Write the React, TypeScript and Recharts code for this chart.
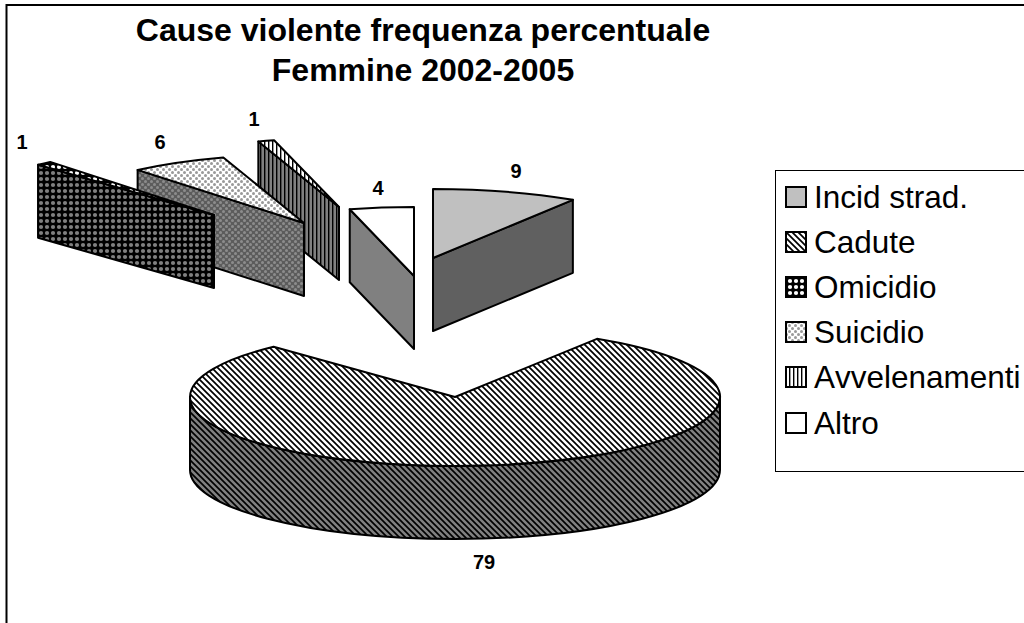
import React from 'react';
import { PieChart, Pie, Legend } from 'recharts';

const categories = ['Incid strad.', 'Cadute', 'Omicidio', 'Suicidio', 'Avvelenamenti', 'Altro'];
const values = [9, 79, 1, 6, 1, 4];
const titleLines = ['Cause violente frequenza percentuale', 'Femmine 2002-2005'];

// Drawn back to front and counter-clockwise from the top, so the front slices overlap the back ones.
const rows = categories.map((name, i) => ({ name, value: values[i] })).reverse();

const CX = 430;
const CY = 300;
const RX = 265;
const SQUASH = 0.26;
const DEPTH = 73;

const explode: Record<string, [number, number]> = {
  'Incid strad.': [3, -42],
  Cadute: [25, 97],
  Omicidio: [-216, -85],
  Suicidio: [-126, -77],
  Avvelenamenti: [-91, -93],
  Altro: [-16, -24],
};
const radiusScale: Record<string, number> = {
  'Incid strad.': 0.985,
  Cadute: 1,
  Omicidio: 0.97,
  Suicidio: 0.985,
  Avvelenamenti: 0.985,
  Altro: 0.975,
};
const labelAt: Record<string, [number, number]> = {
  'Incid strad.': [86, -129],
  Cadute: [54, 262],
  Omicidio: [-408, -158],
  Suicidio: [-270, -158],
  Avvelenamenti: [-176, -181],
  Altro: [-52, -112],
};
const fills: Record<string, [string, string, string]> = {
  'Incid strad.': ['#c0c0c0', '#606060', '#c0c0c0'],
  Cadute: ['url(#caduteTop)', 'url(#caduteSide)', 'url(#caduteTop)'],
  Omicidio: ['url(#omiTop)', 'url(#omiSide)', 'url(#omiTop)'],
  Suicidio: ['url(#suiTop)', 'url(#suiSide)', 'url(#suiTop)'],
  Avvelenamenti: ['url(#avvTop)', 'url(#avvSide)', 'url(#avvTop)'],
  Altro: ['#ffffff', '#808080', '#ffffff'],
};

const rad = (a: number) => (a * Math.PI) / 180;

function Slice3D(props: any) {
  const { cx, cy, outerRadius, startAngle, endAngle } = props;
  const name = props.name ?? props.payload?.name;
  const [dx, dy] = explode[name];
  const ax = cx + dx;
  const ay = cy + dy;
  const rx = outerRadius * radiusScale[name];
  const ry = outerRadius * SQUASH;
  const a0 = Math.min(startAngle, endAngle);
  const a1 = Math.max(startAngle, endAngle);
  const px = (a: number) => ax + rx * Math.cos(rad(a));
  const py = (a: number) => ay - ry * Math.sin(rad(a));
  const [top, side] = fills[name];
  const st = { stroke: '#000', strokeWidth: 2, strokeLinejoin: 'round' as const };

  const cutFace = (a: number) =>
    `M${ax},${ay} L${px(a)},${py(a)} L${px(a)},${py(a) + DEPTH} L${ax},${ay + DEPTH} Z`;
  const showStart = Math.cos(rad(a1)) < -0.001;
  const showEnd = Math.cos(rad(a0)) > 0.001;

  const w0 = Math.max(a0, 180);
  const w1 = Math.min(a1, 360);
  const hasWall = w1 > w0;
  const large = a1 - a0 > 180 ? 1 : 0;
  const wallLarge = w1 - w0 > 180 ? 1 : 0;

  return (
    <g>
      {showStart && <path d={cutFace(a1)} fill={side} {...st} />}
      {showEnd && <path d={cutFace(a0)} fill={side} {...st} />}
      {hasWall && (
        <path
          d={`M${px(w1)},${py(w1)} A${rx},${ry} 0 ${wallLarge} 1 ${px(w0)},${py(w0)} L${px(w0)},${py(w0) + DEPTH} A${rx},${ry} 0 ${wallLarge} 0 ${px(w1)},${py(w1) + DEPTH} Z`}
          fill={side}
          {...st}
        />
      )}
      <path
        d={`M${ax},${ay} L${px(a1)},${py(a1)} A${rx},${ry} 0 ${large} 1 ${px(a0)},${py(a0)} Z`}
        fill={top}
        {...st}
      />
    </g>
  );
}

function sliceLabel(props: any) {
  const name = props.name ?? props.payload?.name;
  const [dx, dy] = labelAt[name];
  return (
    <text
      x={CX + dx}
      y={CY + dy}
      textAnchor="middle"
      dominantBaseline="central"
      fontFamily="'Liberation Sans', Arial, sans-serif"
      fontWeight="bold"
      fontSize={20}
      fill="#000"
    >
      {props.value}
    </text>
  );
}

function stripes(id: string, bg: string) {
  return (
    <pattern id={id} width={6} height={6} patternUnits="userSpaceOnUse">
      <rect width={6} height={6} fill={bg} />
      <path d="M-3,3 L3,9 M0,0 L6,6 M3,-3 L9,3" stroke="#000" strokeWidth={1.7} />
    </pattern>
  );
}
function dots(id: string, bg: string) {
  return (
    <pattern id={id} width={6} height={6} patternUnits="userSpaceOnUse" x={2} y={2}>
      <rect width={6} height={6} fill="#000" />
      <circle cx={3} cy={3} r={2.1} fill={bg} />
    </pattern>
  );
}
function checks(id: string, a: string, b: string) {
  return (
    <pattern id={id} width={6} height={6} patternUnits="userSpaceOnUse">
      <rect width={6} height={6} fill={a} />
      <circle cx={1.5} cy={1.5} r={1.5} fill={b} />
      <circle cx={4.5} cy={4.5} r={1.5} fill={b} />
    </pattern>
  );
}
function bars(id: string, bg: string) {
  return (
    <pattern id={id} width={4} height={4} patternUnits="userSpaceOnUse">
      <rect width={4} height={4} fill={bg} />
      <rect width={1.4} height={4} fill="#000" />
    </pattern>
  );
}

function LegendBox() {
  return (
    <div
      style={{
        width: 260,
        height: 302,
        boxSizing: 'border-box',
        border: '1px solid #000',
        background: '#fff',
        paddingTop: 3,
        fontFamily: "'Liberation Sans', Arial, sans-serif",
        fontSize: 31.5,
        fontKerning: 'none',
        color: '#000',
      }}
    >
      {categories.map((name) => (
        <div key={name} style={{ height: 45.2, lineHeight: '44px', display: 'flex', alignItems: 'center', whiteSpace: 'nowrap' }}>
          <svg width={22} height={22} style={{ marginLeft: 9, marginRight: 7, flex: 'none' }}>
            <rect x={1} y={1} width={20} height={20} fill={fills[name][2]} stroke="#000" strokeWidth={2} />
          </svg>
          <span>{name}</span>
        </div>
      ))}
    </div>
  );
}

export default function App() {
  return (
    <div style={{ position: 'absolute', left: 0, top: 0, width: 1024, height: 623, overflow: 'hidden', background: '#fff' }}>
      <PieChart width={1024} height={623} margin={{ top: 0, right: 0, bottom: 0, left: 0 }}>
        <defs>
          {stripes('caduteTop', '#fff')}
          {stripes('caduteSide', '#808080')}
          {dots('omiTop', '#fff')}
          {dots('omiSide', '#808080')}
          {checks('suiTop', '#fff', '#999')}
          {checks('suiSide', '#5c5c5c', '#8c8c8c')}
          {bars('avvTop', '#fff')}
          {bars('avvSide', '#808080')}
        </defs>
        <path d="M1024,5 H6.5 V623" fill="none" stroke="#000" strokeWidth={2} />
        {titleLines.map((t, i) => (
          <text
            key={t}
            x={423}
            y={30 + i * 40}
            textAnchor="middle"
            dominantBaseline="central"
            fontFamily="'Liberation Sans', Arial, sans-serif"
            fontWeight="bold"
            fontSize={32}
            fill="#000"
          >
            {t}
          </text>
        ))}
        <Pie
          data={rows}
          dataKey="value"
          nameKey="name"
          cx={CX}
          cy={CY}
          outerRadius={RX}
          startAngle={90}
          endAngle={450}
          paddingAngle={0}
          isAnimationActive={false}
          shape={Slice3D}
          label={sliceLabel}
          labelLine={false}
          legendType="rect"
        />
        <Legend
          layout="vertical"
          align="right"
          verticalAlign="top"
          content={LegendBox}
          wrapperStyle={{ position: 'absolute', left: 775, top: 170, width: 260 }}
        />
      </PieChart>
    </div>
  );
}
